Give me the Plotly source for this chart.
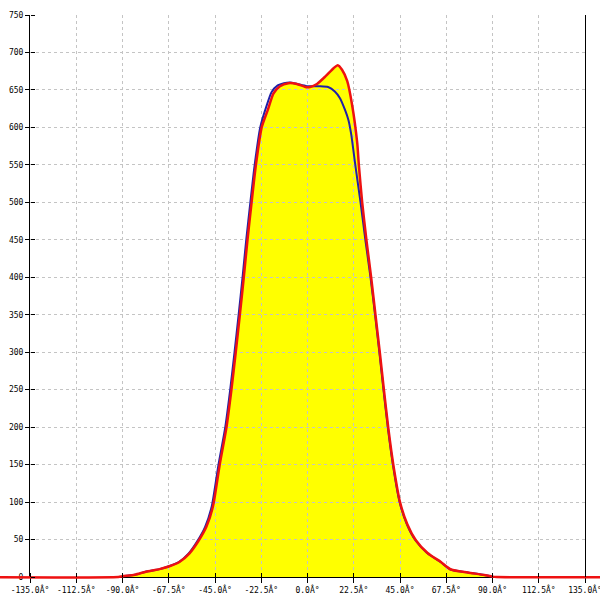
import plotly.graph_objects as go

# ---- data ----
red_angles = [-180, -92, -90, -84, -78.6, -72, -67.5, -62.3, -57.4, -53.3,
              -49.2, -46, -42.7, -39.4, -37, -34.9, -32.9, -31, -29.2, -27.2,
              -25.1, -22.3, -19.1, -16.6, -13.4, -9.3, -5.2, -1.1, 1.3, 4.6,
              8.7, 12.7, 14.7, 16.8, 19.3, 21.7, 24.2, 25, 26.6, 28.7,
              31, 33.1, 35.2, 37.2, 39.3, 41.8, 45, 48.6, 52.7, 58.4,
              64.9, 69.8, 78, 86, 90, 92, 180]
red_values = [0, 0, 1, 3, 7, 10.5, 14, 20, 31.6, 47,
              67, 94, 150, 200, 250, 300, 350, 400, 450, 500,
              550, 600, 625, 645, 655, 659, 658, 654, 654, 658,
              668, 679, 683, 677, 662, 630, 579, 549, 500, 449,
              399, 349, 299, 249, 199, 149, 100, 70, 49, 32,
              20, 10, 6, 2.7, 0.5, 0, 0]

blue_angles = [-90, -84, -78.8, -72, -67.8, -62.6, -57.8, -53.8, -49.8, -46.6,
               -43.3, -40, -37.6, -35.5, -33.5, -31.6, -29.8, -27.8, -25.7, -23,
               -20, -17.5, -14.5, -11.5, -8.5, -5, -0.3, 5.9, 10, 13.3,
               15.8, 18.3, 19.9, 21.2, 23.3, 25.8, 28.2, 30.7, 32.9, 35,
               37, 39.1, 41.6, 44.8, 48.4, 52.5, 58.2, 64.7, 69.6, 78,
               86, 90]
blue_values = [1, 3, 7, 10.5, 14, 20, 31.6, 47, 67, 94,
               150, 200, 250, 300, 350, 400, 450, 500, 550, 600,
               628, 647, 656, 659, 660, 658, 655, 655, 654, 648,
               639, 623, 610, 592, 549, 500, 449, 399, 349, 299,
               249, 199, 149, 100, 70, 49, 32, 20, 10, 6,
               2.7, 0.5]

x_ticks = [-135, -112.5, -90, -67.5, -45, -22.5, 0, 22.5, 45, 67.5, 90, 112.5, 135]
x_tick_labels = ["-135.0Â°", "-112.5Â°", "-90.0Â°", "-67.5Â°", "-45.0Â°", "-22.5Â°",
                 "0.0Â°", "22.5Â°", "45.0Â°", "67.5Â°", "90.0Â°", "112.5Â°", "135.0Â°"]
y_ticks = [0, 50, 100, 150, 200, 250, 300, 350, 400, 450, 500, 550, 600, 650, 700, 750]
x_min, x_max = -135, 135
y_min, y_max = 0, 750

# ---- layout geometry ----
W = H = 600
box_l, box_r, box_t, box_b = 30, 585, 15, 577
xdom = [box_l / W, box_r / W]
ydom = [(H - box_b) / H, (H - box_t) / H]
sx = (box_r - box_l) / (x_max - x_min)
sy = (box_b - box_t) / (y_max - y_min)
full_x = [x_min - box_l / sx, x_max + (W - box_r) / sx]
full_y = [y_min - (H - box_b) / sy, y_max + box_t / sy]

tick_font = dict(family="DejaVu Sans Mono", size=8, color="black")
spline = dict(shape="spline", smoothing=0.6)

fig = go.Figure()
# yellow fill (full-bleed subplot)
fig.add_trace(go.Scatter(x=red_angles, y=red_values, mode="lines", fill="tozeroy",
                         fillcolor="#ffff00", line=dict(width=0, **spline),
                         xaxis="x", yaxis="y", hoverinfo="skip", showlegend=False))
# axes / grid subplot
fig.add_trace(go.Scatter(x=[], y=[], xaxis="x2", yaxis="y2", showlegend=False))
# curves (full-bleed subplot, drawn last)
fig.add_trace(go.Scatter(x=blue_angles, y=blue_values, mode="lines",
                         line=dict(color="#2020a8", width=2, **spline),
                         xaxis="x3", yaxis="y3", hoverinfo="skip", showlegend=False))
fig.add_trace(go.Scatter(x=red_angles, y=red_values, mode="lines",
                         line=dict(color="#ee1111", width=2.5, **spline),
                         xaxis="x3", yaxis="y3", hoverinfo="skip", showlegend=False))

grid = dict(showgrid=True, gridcolor="#c4c4c4", gridwidth=1, griddash="3px,3px",
            zeroline=False)

fig.update_layout(
    width=W, height=H, margin=dict(l=0, r=0, t=0, b=0, pad=0, autoexpand=False),
    paper_bgcolor="white", plot_bgcolor="rgba(0,0,0,0)", showlegend=False,
    xaxis=dict(domain=[0, 1], range=full_x, visible=False, anchor="y", automargin=False),
    yaxis=dict(domain=[0, 1], range=full_y, visible=False, anchor="x", automargin=False),
    xaxis2=dict(domain=xdom, range=[x_min, x_max], anchor="y2", automargin=False,
                tickmode="array", tickvals=x_ticks, ticktext=x_tick_labels,
                ticks="outside", ticklen=5, tickcolor="black", tickwidth=1,
                showline=True, linecolor="black", linewidth=1, mirror=False,
                ticklabeloverflow="allow",
                tickfont=tick_font, **grid),
    yaxis2=dict(domain=ydom, range=[y_min, y_max], anchor="x2", automargin=False,
                tickmode="array", tickvals=y_ticks,
                ticks="outside", ticklen=4, tickcolor="black", tickwidth=1,
                showline=True, linecolor="black", linewidth=1, mirror=True,
                ticklabeloverflow="allow",
                tickfont=tick_font, **grid),
    xaxis3=dict(domain=[0, 1], range=full_x, anchor="free", position=ydom[0],
                automargin=False,
                tickmode="array", tickvals=x_ticks, ticks="inside", ticklen=4,
                tickcolor="black", showticklabels=False, showline=False,
                showgrid=False, zeroline=False),
    yaxis3=dict(domain=[0, 1], range=full_y, anchor="free", position=xdom[0],
                automargin=False,
                tickmode="array", tickvals=y_ticks, ticks="inside", ticklen=4,
                tickcolor="black", showticklabels=False, showline=False,
                showgrid=False, zeroline=False),
)

fig.write_html("out.html",
               config={"displayModeBar": False, "staticPlot": True},
               post_script="document.body.style.margin='0px';"
                           "document.body.style.overflow='hidden';")
